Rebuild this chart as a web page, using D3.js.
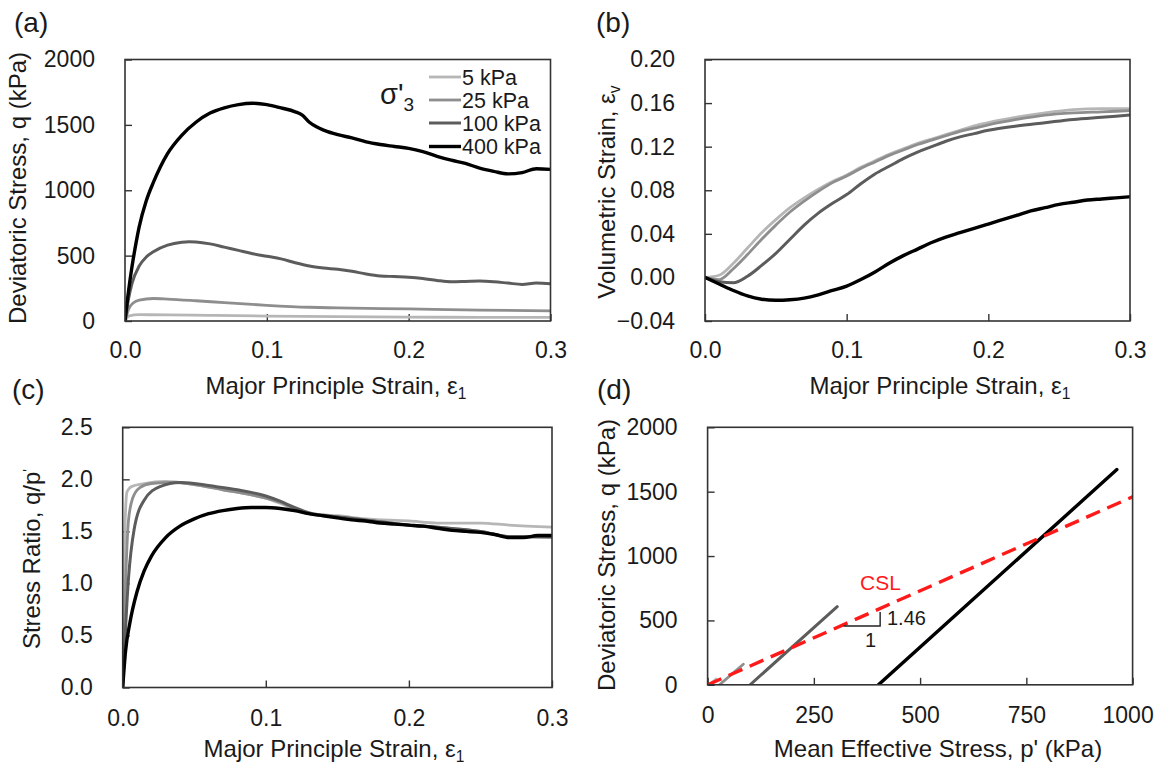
<!DOCTYPE html>
<html><head><meta charset="utf-8">
<script src="https://cdn.jsdelivr.net/npm/d3@7"></script>
<style>
body{margin:0;background:#fff}
svg text{font-family:"Liberation Sans",Arial,sans-serif;fill:#1a1a1a}
</style>
</head><body>
<svg id="fig" width="1156" height="770"></svg>
<script>
// ---------- DATA ----------
const seriesLabels = ["5 kPa", "25 kPa", "100 kPa", "400 kPa"];
const seriesColors = ["#b6b6b6", "#8e8e8e", "#5c5c5c", "#000000"];
const seriesWidths = [2.8, 2.8, 3, 3.4];

// (a) deviatoric stress q (kPa) vs major principal strain
const qDev5 = [[0,0],[0.003,40],[0.01,48],[0.03,47],[0.06,43],[0.1,38],[0.15,33],[0.2,30],[0.25,28],[0.3,27]];
const qDev25 = [[0,0],[0.003,100],[0.006,140],[0.01,160],[0.02,172],[0.03,168],[0.05,155],[0.07,140],[0.1,120],[0.13,105],[0.15,100],[0.2,92],[0.25,83],[0.3,78]];
const qDev100 = [[0,0],[0.0025,170],[0.005,290],[0.01,420],[0.015,490],[0.02,530],[0.03,580],[0.04,603],[0.045,607],[0.05,605],[0.06,590],[0.07,565],[0.08,540],[0.09,515],[0.1,495],[0.11,475],[0.12,445],[0.13,420],[0.14,405],[0.15,395],[0.16,380],[0.17,360],[0.18,345],[0.19,340],[0.2,335],[0.21,325],[0.22,310],[0.23,300],[0.24,302],[0.25,305],[0.26,300],[0.27,290],[0.28,280],[0.29,290],[0.3,285]];
const qDev400 = [[0,0],[0.0025,230],[0.005,420],[0.0075,580],[0.01,720],[0.015,920],[0.02,1060],[0.025,1180],[0.03,1280],[0.04,1420],[0.05,1520],[0.06,1590],[0.07,1630],[0.08,1655],[0.09,1665],[0.1,1655],[0.11,1630],[0.12,1600],[0.125,1575],[0.13,1520],[0.135,1485],[0.14,1460],[0.15,1425],[0.16,1400],[0.17,1370],[0.18,1350],[0.19,1335],[0.2,1320],[0.21,1295],[0.22,1260],[0.23,1230],[0.24,1205],[0.25,1170],[0.26,1145],[0.27,1125],[0.28,1135],[0.29,1165],[0.3,1160]];

// (b) volumetric strain vs major principal strain
const vol5 = [[0,0],[0.01,0.002],[0.02,0.013],[0.03,0.027],[0.04,0.041],[0.05,0.053],[0.06,0.064],[0.07,0.073],[0.08,0.081],[0.09,0.088],[0.1,0.094],[0.11,0.101],[0.12,0.107],[0.13,0.113],[0.14,0.118],[0.15,0.123],[0.16,0.127],[0.17,0.131],[0.18,0.135],[0.19,0.139],[0.2,0.142],[0.22,0.147],[0.24,0.151],[0.26,0.154],[0.28,0.155],[0.3,0.155]];
const vol25 = [[0,0],[0.01,-0.002],[0.02,0.008],[0.03,0.021],[0.04,0.035],[0.05,0.048],[0.06,0.060],[0.07,0.070],[0.08,0.079],[0.09,0.087],[0.1,0.093],[0.11,0.100],[0.12,0.106],[0.13,0.112],[0.14,0.117],[0.15,0.122],[0.16,0.126],[0.17,0.130],[0.18,0.134],[0.19,0.137],[0.2,0.140],[0.22,0.145],[0.24,0.149],[0.26,0.151],[0.28,0.152],[0.3,0.153]];
const vol100 = [[0,0],[0.01,-0.004],[0.02,-0.005],[0.03,0.001],[0.04,0.011],[0.05,0.022],[0.06,0.035],[0.07,0.048],[0.08,0.059],[0.09,0.068],[0.1,0.076],[0.11,0.086],[0.12,0.095],[0.13,0.102],[0.14,0.109],[0.15,0.115],[0.16,0.120],[0.17,0.125],[0.18,0.129],[0.19,0.132],[0.2,0.135],[0.22,0.139],[0.24,0.142],[0.26,0.145],[0.28,0.147],[0.3,0.149]];
const vol400 = [[0,0],[0.01,-0.006],[0.02,-0.012],[0.03,-0.017],[0.04,-0.020],[0.05,-0.021],[0.06,-0.0205],[0.07,-0.019],[0.08,-0.016],[0.09,-0.012],[0.1,-0.008],[0.11,-0.002],[0.12,0.005],[0.13,0.013],[0.14,0.020],[0.15,0.026],[0.16,0.032],[0.17,0.037],[0.18,0.041],[0.19,0.045],[0.2,0.049],[0.21,0.053],[0.22,0.057],[0.23,0.061],[0.24,0.064],[0.25,0.067],[0.26,0.069],[0.27,0.071],[0.28,0.072],[0.29,0.073],[0.3,0.074]];

// (c) stress ratio q/p' vs major principal strain
const ratio5 = [[0,0],[0.001,1.2],[0.002,1.7],[0.003,1.88],[0.006,1.93],[0.015,1.96],[0.03,1.98],[0.05,1.95],[0.07,1.9],[0.09,1.85],[0.1,1.82],[0.11,1.77],[0.12,1.71],[0.13,1.67],[0.14,1.66],[0.15,1.65],[0.17,1.62],[0.2,1.6],[0.22,1.58],[0.25,1.58],[0.27,1.56],[0.3,1.54]];
const ratio25 = [[0,0],[0.002,1.0],[0.004,1.6],[0.007,1.82],[0.012,1.92],[0.02,1.96],[0.035,1.97],[0.05,1.95],[0.07,1.9],[0.09,1.85],[0.1,1.82],[0.11,1.78],[0.12,1.72],[0.13,1.67],[0.15,1.64],[0.17,1.6],[0.2,1.56],[0.22,1.54],[0.25,1.5],[0.27,1.45],[0.3,1.44]];
const ratio100 = [[0,0],[0.004,1.04],[0.008,1.52],[0.015,1.8],[0.026,1.93],[0.04,1.97],[0.05,1.96],[0.06,1.94],[0.08,1.9],[0.1,1.84],[0.11,1.79],[0.12,1.73],[0.13,1.68],[0.15,1.64],[0.17,1.61],[0.2,1.56],[0.22,1.54],[0.25,1.5],[0.27,1.45],[0.3,1.45]];
const ratio400 = [[0,0],[0.002,0.35],[0.005,0.62],[0.01,0.92],[0.015,1.12],[0.02,1.26],[0.03,1.44],[0.04,1.55],[0.05,1.62],[0.06,1.67],[0.07,1.70],[0.08,1.72],[0.09,1.73],[0.1,1.73],[0.11,1.72],[0.12,1.70],[0.13,1.67],[0.14,1.65],[0.15,1.63],[0.16,1.61],[0.17,1.60],[0.18,1.58],[0.19,1.57],[0.2,1.56],[0.21,1.55],[0.22,1.53],[0.23,1.51],[0.24,1.50],[0.25,1.49],[0.26,1.47],[0.27,1.44],[0.28,1.44],[0.29,1.46],[0.3,1.46]];

// (d) stress paths p' (kPa) vs q (kPa)
const path5 = [[5,0],[20,45]];
const path25 = [[28,0],[84,160]];
const path100 = [[100,0],[305,607]];
const path400 = [[402,0],[963,1672]];
const cslLine = [[0,0],[1000,1460]];
const slopeTriangle = [[320,457],[406,457],[406,565]];
const cslSlope = "1.46";

// ticks
const strainTicks = [0, 0.1, 0.2, 0.3];
const qTicks = [0, 500, 1000, 1500, 2000];
const evTicks = [-0.04, 0, 0.04, 0.08, 0.12, 0.16, 0.2];
const ratioTicks = [0, 0.5, 1, 1.5, 2, 2.5];
const pTicks = [0, 250, 500, 750, 1000];

// ---------- DRAW ----------
const svg = d3.select("#fig");
const FONT = '"Liberation Sans",Arial,sans-serif';

function panel(o) {
  const x = d3.scaleLinear().domain(o.xd).range([o.l, o.r]);
  const y = d3.scaleLinear().domain(o.yd).range([o.b, o.t]);
  const id = "clip" + o.name;
  svg.append("clipPath").attr("id", id).append("rect")
    .attr("x", o.l).attr("y", o.t).attr("width", o.r - o.l).attr("height", o.b - o.t);
  const g = svg.append("g");
  const ax = d3.axisBottom(x).tickValues(o.xt).tickFormat(o.xf).tickSizeInner(-7).tickSizeOuter(0).tickPadding(o.xpad);
  const ay = d3.axisLeft(y).tickValues(o.yt).tickFormat(o.yf).tickSizeInner(-7).tickSizeOuter(0).tickPadding(30);
  const gx = g.append("g").attr("transform", `translate(0,${o.b})`).call(ax);
  const gy = g.append("g").attr("transform", `translate(${o.l},0)`).call(ay);
  [gx, gy].forEach(s => {
    s.attr("font-size", 23).attr("font-family", FONT);
    s.select(".domain").remove();
    s.selectAll("text").attr("fill", "#1a1a1a");
    s.selectAll("line").attr("stroke", "#333").attr("stroke-width", 1.4);
  });
  const plot = g.append("g").attr("clip-path", `url(#${id})`);
  const frame = () => g.append("rect").attr("x", o.l).attr("y", o.t)
    .attr("width", o.r - o.l).attr("height", o.b - o.t)
    .attr("fill", "none").attr("stroke", "#333").attr("stroke-width", 1.6);
  return {x, y, plot, g, gx, frame};
}

function drawSeries(p, data, i, curve) {
  const line = d3.line().x(d => p.x(d[0])).y(d => p.y(d[1])).curve(curve || d3.curveMonotoneX);
  p.plot.append("path").attr("d", line(data)).attr("fill", "none")
    .attr("stroke", seriesColors[i]).attr("stroke-width", seriesWidths[i])
    .attr("stroke-linejoin", "round").attr("stroke-linecap", "round");
}

function panelLabel(txt, x, y) {
  svg.append("text").attr("x", x).attr("y", y).attr("font-size", 28).text(txt);
}

function addParts(t, parts, size) {
  parts.forEach(p => {
    const s = t.append("tspan").text(p.t);
    if (p.sub) s.attr("font-size", size * 0.65).attr("dy", "0.3em");
    if (p.sup) s.attr("font-size", size * 0.6).attr("dy", "-0.5em");
  });
}
function xTitle(parts, cx, cy, size) {
  const t = svg.append("text").attr("x", cx).attr("y", cy).attr("text-anchor", "middle")
    .attr("dy", "0.35em").attr("font-size", size);
  addParts(t, parts, size);
}
function yTitle(parts, cx, cy, size) {
  const t = svg.append("text").attr("transform", `translate(${cx},${cy}) rotate(-90)`)
    .attr("text-anchor", "middle").attr("dy", "0.35em").attr("font-size", size);
  addParts(t, parts, size);
}

const fmt1 = d3.format(".1f"), fmt2 = d3.format(".2f"), fmt0 = d3.format("d");

// (a)
const pa = panel({name: "a", l: 125, r: 550.5, t: 59.5, b: 321, xd: [0, 0.3], yd: [0, 2000],
  xt: strainTicks, yt: qTicks, xf: fmt1, yf: fmt0, xpad: 21});
[qDev5, qDev25, qDev100, qDev400].forEach((d, i) => drawSeries(pa, d, i));
pa.frame();
panelLabel("(a)", 14, 32);
xTitle([{t: "Major Principle Strain, ε"}, {t: "1", sub: true}], 336, 386, 24);
yTitle([{t: "Deviatoric Stress, q (kPa)"}], 18, 188, 24);

// legend
const legY = [77, 100, 123, 146.5];
seriesLabels.forEach((lab, i) => {
  svg.append("line").attr("x1", 429).attr("x2", 461).attr("y1", legY[i]).attr("y2", legY[i])
    .attr("stroke", seriesColors[i]).attr("stroke-width", seriesWidths[i]);
  svg.append("text").attr("x", 462).attr("y", legY[i]).attr("dy", "0.36em").attr("font-size", 21.5).text(lab);
});
const sig = svg.append("text").attr("x", 380).attr("y", 104).attr("font-size", 29);
sig.append("tspan").text("σ'");
sig.append("tspan").attr("font-size", 19).attr("dy", 7).text("3");

// (b)
const pb = panel({name: "b", l: 705, r: 1130, t: 59.5, b: 321, xd: [0, 0.3], yd: [-0.04, 0.2],
  xt: strainTicks, yt: evTicks, xf: fmt1, yf: fmt2, xpad: 21});
[vol5, vol25, vol100, vol400].forEach((d, i) => drawSeries(pb, d, i));
pb.frame();
panelLabel("(b)", 596, 32);
xTitle([{t: "Major Principle Strain, ε"}, {t: "1", sub: true}], 940, 386, 24);
yTitle([{t: "Volumetric Strain, ε"}, {t: "v", sub: true}], 607, 192, 24);

// (c)
const pc = panel({name: "c", l: 122.7, r: 552, t: 427.3, b: 687.5, xd: [0, 0.3], yd: [0, 2.5],
  xt: strainTicks, yt: ratioTicks, xf: fmt1, yf: fmt1, xpad: 22});
[ratio5, ratio25, ratio100, ratio400].forEach((d, i) => drawSeries(pc, d, i));
pc.frame();
panelLabel("(c)", 12, 399);
xTitle([{t: "Major Principle Strain, ε"}, {t: "1", sub: true}], 334, 749, 24);
yTitle([{t: "Stress Ratio, q/p"}, {t: "'", sup: true}], 32, 559, 24);

// (d)
const pd = panel({name: "d", l: 707.6, r: 1132.6, t: 427.3, b: 684.8, xd: [0, 1000], yd: [0, 2000],
  xt: pTicks, yt: qTicks, xf: fmt0, yf: fmt0, xpad: 22});
pd.gx.selectAll(".tick text").filter(d => d === 1000).attr("x", -5);
[path5, path25, path100, path400].forEach((d, i) => drawSeries(pd, d, i, d3.curveLinear));
const lineD = d3.line().x(d => pd.x(d[0])).y(d => pd.y(d[1]));
pd.plot.append("path").attr("d", lineD(cslLine)).attr("fill", "none")
  .attr("stroke", "#ff1a1a").attr("stroke-width", 3.4).attr("stroke-dasharray", "15,8");
pd.g.append("path").attr("d", lineD(slopeTriangle)).attr("fill", "none")
  .attr("stroke", "#222").attr("stroke-width", 1.4);
pd.frame();
svg.append("text").attr("x", 860).attr("y", 590).attr("font-size", 21).style("fill", "#ff1a1a").text("CSL");
svg.append("text").attr("x", 887).attr("y", 625).attr("font-size", 20).text(cslSlope);
svg.append("text").attr("x", 865).attr("y", 647).attr("font-size", 20).text("1");
panelLabel("(d)", 597, 399);
xTitle([{t: "Mean Effective Stress, p' (kPa)"}], 938, 749, 24);
yTitle([{t: "Deviatoric Stress, q (kPa)"}], 607, 555, 24);
</script>
</body></html>
